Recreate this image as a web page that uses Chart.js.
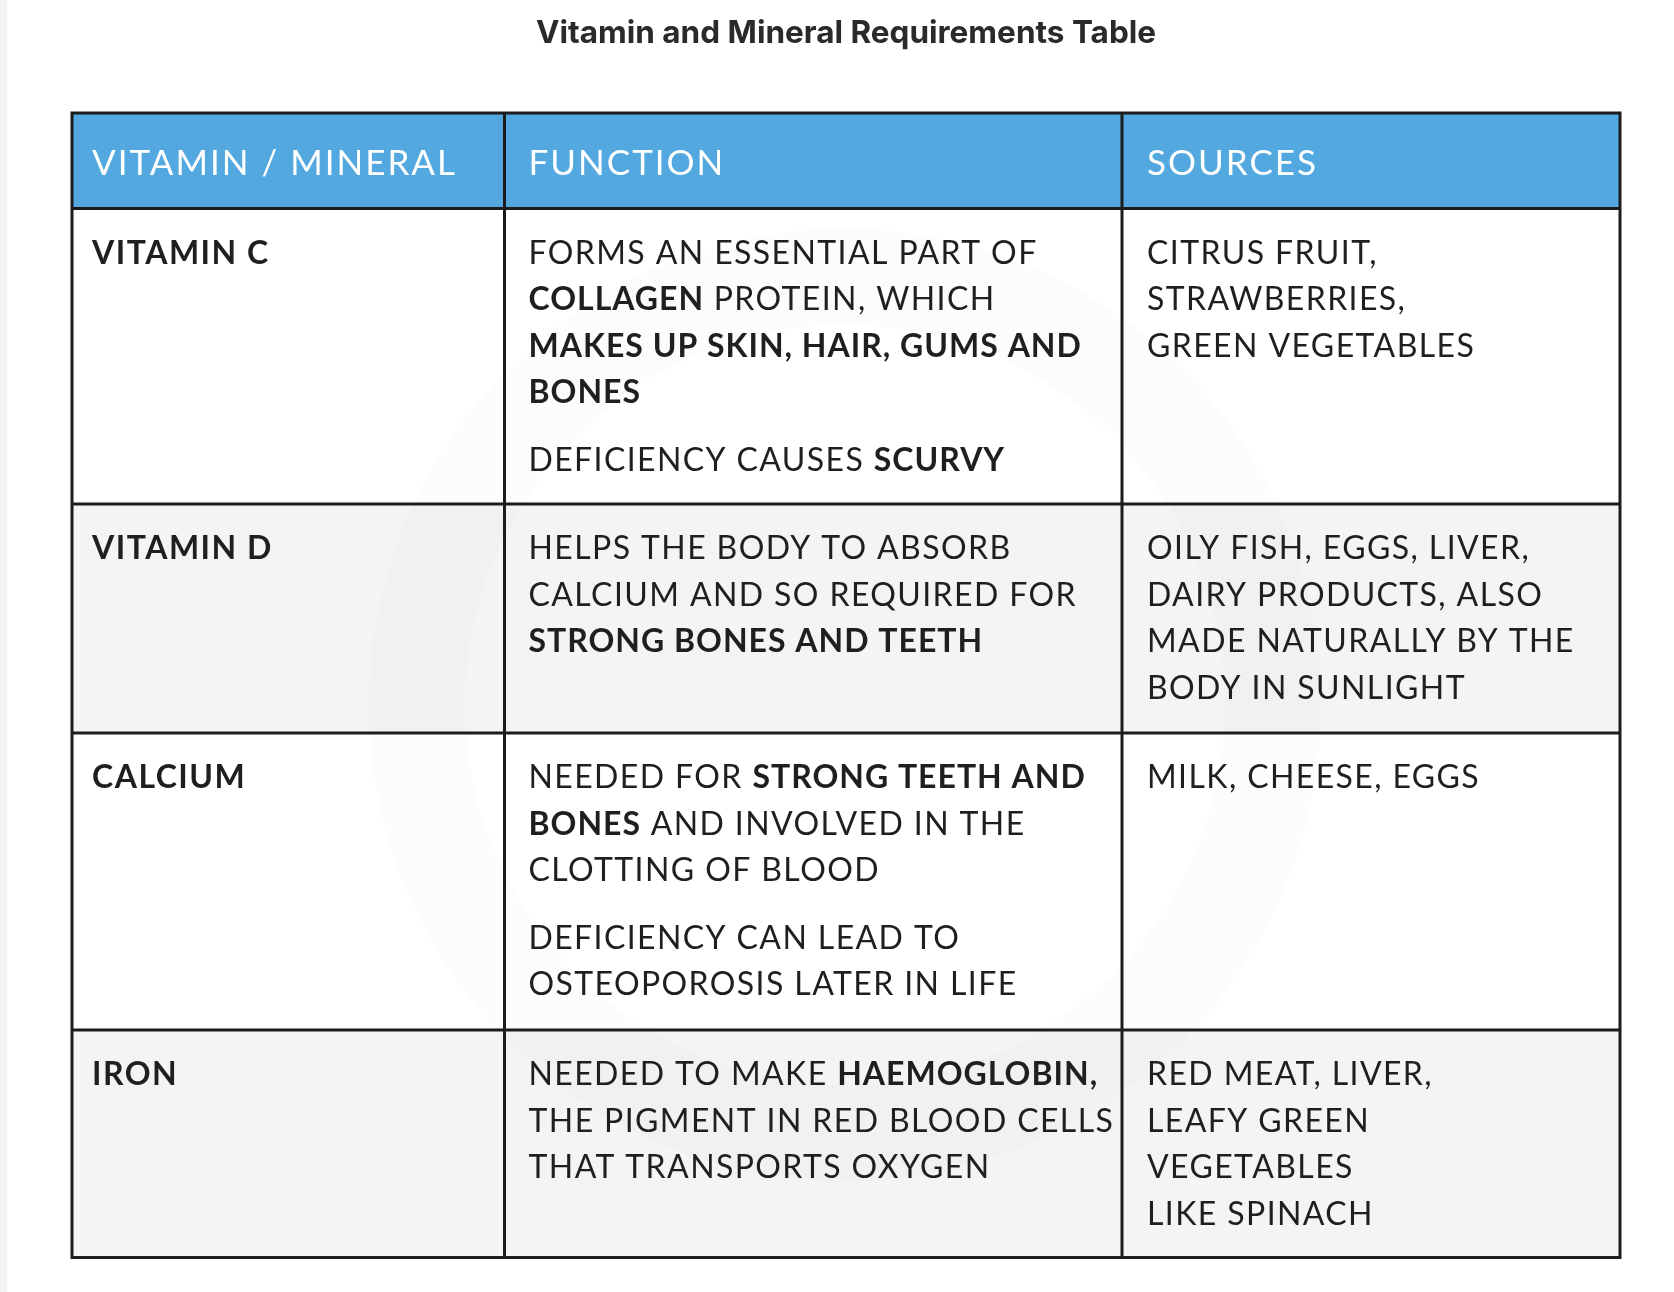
<!DOCTYPE html>
<html>
<head>
<meta charset="utf-8">
<script src="https://cdn.jsdelivr.net/npm/chart.js@4.4.1/dist/chart.umd.min.js"></script>
<style>
  html, body { margin: 0; padding: 0; background: #ffffff; }
  canvas { display: block; }
</style>
</head>
<body>
<canvas id="c" width="1674" height="1292"></canvas>
<script>
// ---------------- DATA ----------------
const chartTitle = 'Vitamin and Mineral Requirements Table';
const headers = ['VITAMIN / MINERAL', 'FUNCTION', 'SOURCES'];
const nutrients = ['VITAMIN C', 'VITAMIN D', 'CALCIUM', 'IRON'];
// paragraphs separated into lines; **text** marks bold runs
const functions = [
  [
    ['FORMS AN ESSENTIAL PART OF', '**COLLAGEN** PROTEIN, WHICH', '**MAKES UP SKIN, HAIR, GUMS AND**', '**BONES**'],
    ['DEFICIENCY CAUSES **SCURVY**']
  ],
  [
    ['HELPS THE BODY TO ABSORB', 'CALCIUM AND SO REQUIRED FOR', '**STRONG BONES AND TEETH**']
  ],
  [
    ['NEEDED FOR **STRONG TEETH AND**', '**BONES** AND INVOLVED IN THE', 'CLOTTING OF BLOOD'],
    ['DEFICIENCY CAN LEAD TO', 'OSTEOPOROSIS LATER IN LIFE']
  ],
  [
    ['NEEDED TO MAKE **HAEMOGLOBIN,**', 'THE PIGMENT IN RED BLOOD CELLS', 'THAT TRANSPORTS OXYGEN']
  ]
];
const sources = [
  [['CITRUS FRUIT,', 'STRAWBERRIES,', 'GREEN VEGETABLES']],
  [['OILY FISH, EGGS, LIVER,', 'DAIRY PRODUCTS, ALSO', 'MADE NATURALLY BY THE', 'BODY IN SUNLIGHT']],
  [['MILK, CHEESE, EGGS']],
  [['RED MEAT, LIVER,', 'LEAFY GREEN', 'VEGETABLES', 'LIKE SPINACH']]
];

// ---------------- LAYOUT (scale units) ----------------
const colEdges = [0, 432.5, 1050, 1548];
const rowEdges = [0, 95.5, 391, 620, 917, 1144.5];
const textPadX = [20, 24, 25];
const headerBaseline = 62;
const bodyBaseline = 55;
const lineStep = 46.5;
const paraGap = 21;

const COLORS = {
  header: '#53a8df',
  rowWhite: '#ffffff',
  rowGray: '#f4f4f4',
  border: '#1c1c1c',
  text: '#1f1f1f',
  headerText: '#ffffff',
  title: '#2a2a2a'
};
const BODY_FONT = 'Lato, "Open Sans", sans-serif';

function setSpacing(ctx, v) { if ('letterSpacing' in ctx) ctx.letterSpacing = v; }

function drawRich(ctx, line, x, y, size, normalW, boldW) {
  const parts = line.split('**');
  let cx = x;
  parts.forEach((p, i) => {
    if (!p) return;
    const bold = i % 2 === 1;
    ctx.font = (bold ? boldW : normalW) + ' ' + size + 'px ' + BODY_FONT;
    setSpacing(ctx, bold ? '1px' : '1.4px');
    ctx.fillText(p, cx, y);
    cx += ctx.measureText(p).width;
  });
}

const tablePlugin = {
  id: 'tablePlugin',
  beforeDraw(chart) {
    const ctx = chart.ctx;
    ctx.save();
    ctx.fillStyle = '#ffffff';
    ctx.fillRect(0, 0, chart.width, chart.height);
    ctx.fillStyle = '#f3f3f3';
    ctx.fillRect(0, 0, 7, chart.height);
    ctx.restore();
  },
  afterDraw(chart) {
    const ctx = chart.ctx;
    const xs = chart.scales.x, ys = chart.scales.y;
    const X = v => xs.getPixelForValue(v);
    const Y = v => ys.getPixelForValue(v);
    ctx.save();

    // cell backgrounds
    for (let r = 0; r < rowEdges.length - 1; r++) {
      ctx.fillStyle = r === 0 ? COLORS.header : (r % 2 === 1 ? COLORS.rowWhite : COLORS.rowGray);
      ctx.fillRect(X(colEdges[0]), Y(rowEdges[r]), X(colEdges[colEdges.length - 1]) - X(colEdges[0]), Y(rowEdges[r + 1]) - Y(rowEdges[r]));
    }

    // faint watermark ring
    ctx.beginPath();
    ctx.arc(X(773), Y(592), 428, 0, Math.PI * 2);
    ctx.strokeStyle = 'rgba(200,212,232,0.08)';
    ctx.lineWidth = 96;
    ctx.stroke();

    // header text
    ctx.fillStyle = COLORS.headerText;
    ctx.textBaseline = 'alphabetic';
    ctx.textAlign = 'left';
    setSpacing(ctx, '2px');
    ctx.font = '400 35px ' + BODY_FONT;
    headers.forEach((h, c) => {
      ctx.fillText(h, X(colEdges[c] + textPadX[c]), Y(rowEdges[0] + headerBaseline));
    });

    // body text
    ctx.fillStyle = COLORS.text;
    nutrients.forEach((n, i) => {
      const top = rowEdges[i + 1];
      setSpacing(ctx, '1.5px');
      ctx.font = '700 32px ' + BODY_FONT;
      ctx.fillText(n, X(colEdges[0] + textPadX[0]), Y(top + bodyBaseline));
      [functions[i], sources[i]].forEach((paras, k) => {
        const c = k + 1;
        let yy = top + bodyBaseline;
        paras.forEach((lines, pi) => {
          if (pi > 0) yy += paraGap;
          lines.forEach(line => {
            drawRich(ctx, line, X(colEdges[c] + textPadX[c]), Y(yy), 32, '400', '700');
            yy += lineStep;
          });
        });
      });
    });

    // grid borders
    setSpacing(ctx, '0px');
    ctx.strokeStyle = COLORS.border;
    ctx.lineWidth = 3;
    ctx.beginPath();
    rowEdges.forEach(rv => {
      ctx.moveTo(X(colEdges[0]), Y(rv));
      ctx.lineTo(X(colEdges[colEdges.length - 1]), Y(rv));
    });
    colEdges.forEach(cv => {
      ctx.moveTo(X(cv), Y(rowEdges[0]));
      ctx.lineTo(X(cv), Y(rowEdges[rowEdges.length - 1]));
    });
    ctx.lineCap = 'square';
    ctx.stroke();
    ctx.restore();
  }
};

new Chart(document.getElementById('c'), {
  type: 'scatter',
  data: { datasets: [{ data: [], showLine: false }] },
  options: {
    responsive: false,
    animation: false,
    devicePixelRatio: 1,
    layout: { padding: { left: 72, right: 54, top: 0, bottom: 34.5 } },
    scales: {
      x: { type: 'linear', min: colEdges[0], max: colEdges[colEdges.length - 1], display: false },
      y: { type: 'linear', min: rowEdges[0], max: rowEdges[rowEdges.length - 1], reverse: true, display: false }
    },
    plugins: {
      legend: { display: false },
      tooltip: { enabled: false },
      title: {
        display: true,
        text: chartTitle,
        color: COLORS.title,
        font: { family: 'Inter, sans-serif', size: 31.5, weight: '700', lineHeight: 1.2 },
        padding: { top: 15, bottom: 60.2 }
      }
    }
  },
  plugins: [tablePlugin]
});
</script>
</body>
</html>
